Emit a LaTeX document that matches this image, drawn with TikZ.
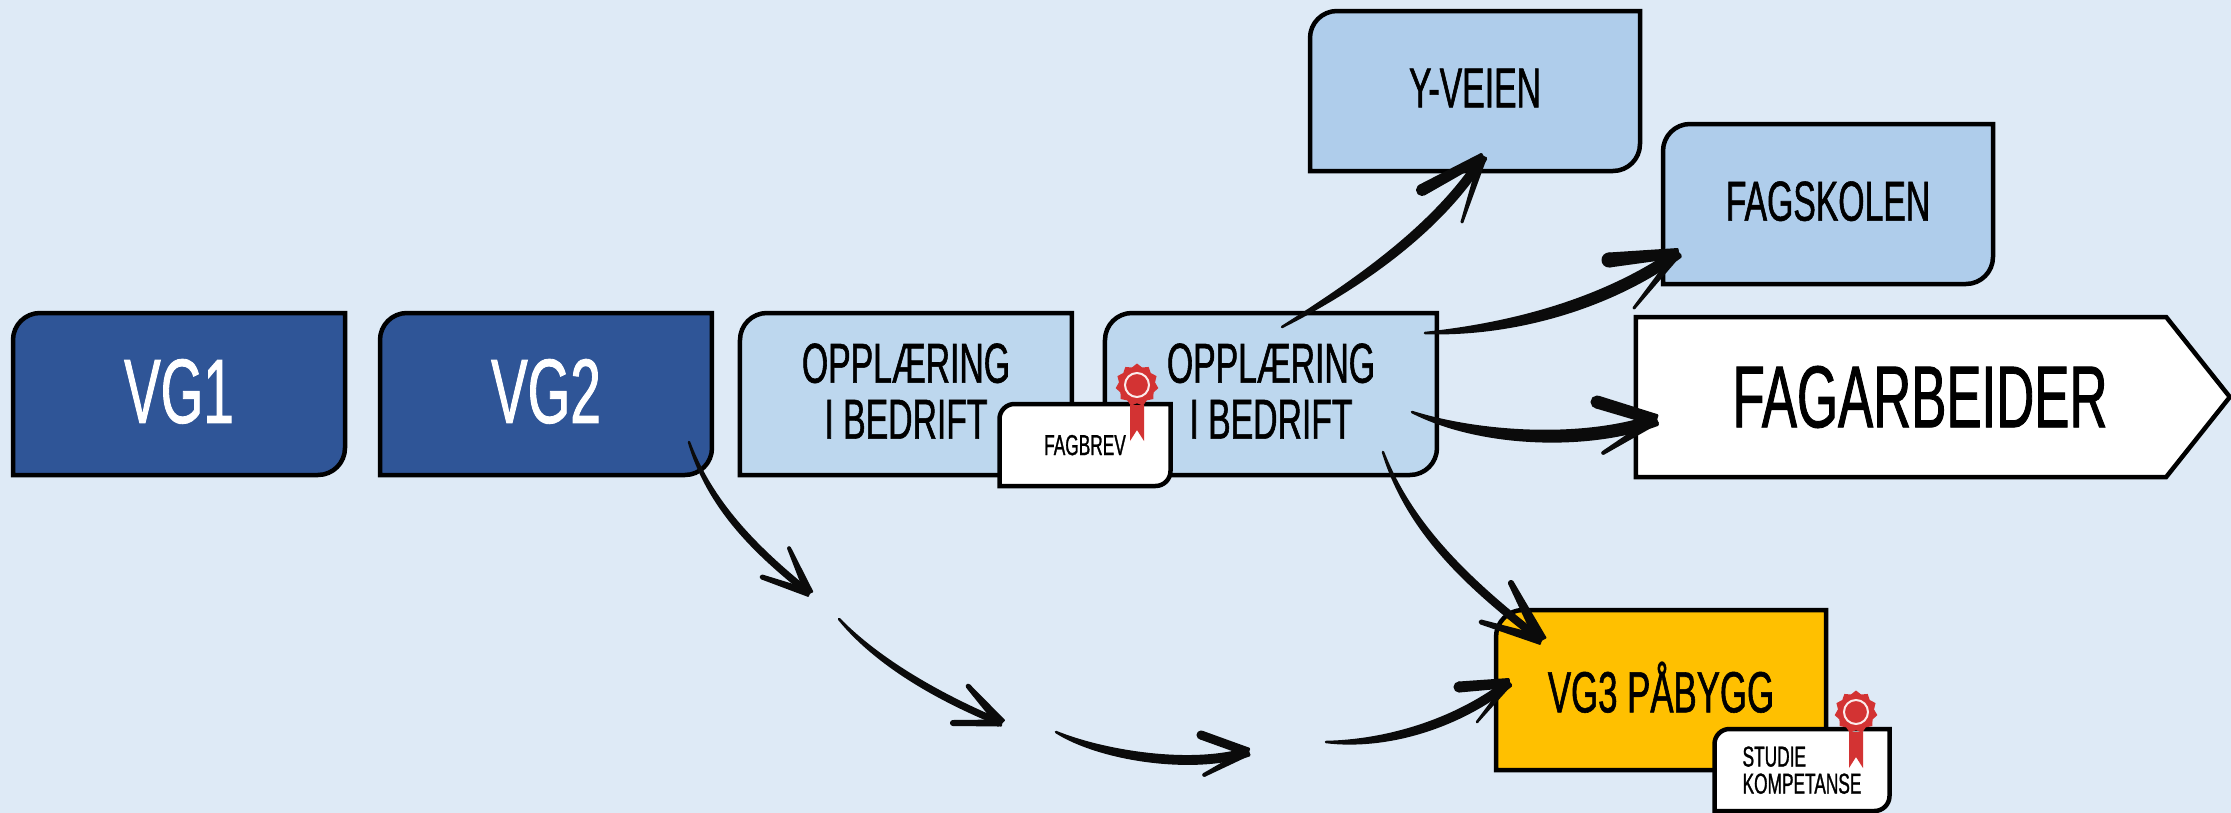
\documentclass[tikz,border=0pt]{standalone}
\usepackage{fontspec}
\usepackage{tikz}
\usetikzlibrary{positioning, arrows.meta, shapes.geometric, shapes.symbols, calc}
\newfontfamily\narrowfont[FakeStretch=0.6, FakeBold=1]{Liberation Sans}

\definecolor{pagebg}{HTML}{DEEAF6}
\definecolor{darkblue}{HTML}{2F5597}
\definecolor{paleblue}{HTML}{BDD7EE}
\definecolor{skyblue}{HTML}{AFCDEB}
\definecolor{amber}{HTML}{FFC000}
\definecolor{sealred}{HTML}{D33333}
\definecolor{inkblack}{HTML}{0B0B0B}

% box with two round corners (top left, bottom right)
\newdimen\cardxa \newdimen\cardya \newdimen\cardxb \newdimen\cardyb \newdimen\cardr
\makeatletter
\pgfdeclareshape{cardshape}{
    \inheritsavedanchors[from=rectangle]
    \inheritanchorborder[from=rectangle]
    \inheritanchor[from=rectangle]{center}
    \inheritanchor[from=rectangle]{north}
    \inheritanchor[from=rectangle]{south}
    \inheritanchor[from=rectangle]{east}
    \inheritanchor[from=rectangle]{west}
    \inheritanchor[from=rectangle]{north east}
    \inheritanchor[from=rectangle]{north west}
    \inheritanchor[from=rectangle]{south east}
    \inheritanchor[from=rectangle]{south west}
    \backgroundpath{
        \southwest \cardxa=\pgf@x \cardya=\pgf@y
        \northeast \cardxb=\pgf@x \cardyb=\pgf@y
        \pgfmathsetlength{\cardr}{\cardradius}
        \pgfpathmoveto{\pgfqpoint{\cardxa}{\cardya}}
        \pgfpathlineto{\pgfqpoint{\cardxa}{\dimexpr\cardyb-\cardr\relax}}
        \pgfpatharc{180}{90}{\cardr}
        \pgfpathlineto{\pgfqpoint{\cardxb}{\cardyb}}
        \pgfpathlineto{\pgfqpoint{\cardxb}{\dimexpr\cardya+\cardr\relax}}
        \pgfpatharc{0}{-90}{\cardr}
        \pgfpathclose
    }
}
\makeatother

% tapered pen stroke: half width, from, bend, bend, to
\newcommand{\brushto}[5]{
    \filldraw[brushink] (#2)
        .. controls ($(#3)!1.3*#1!90:(#4)$) and ($(#4)!1.15*#1!90:(#5)$) .. ($(#5)!#1!-90:(#4)$)
        -- ($(#5)!#1!90:(#4)$)
        .. controls ($(#4)!1.15*#1!-90:(#5)$) and ($(#3)!1.3*#1!-90:(#4)$) .. (#2) -- cycle;
}
% one barb of the pen arrow: tip, offset of its far end, half width at tip, half width at far end
\newcommand{\brushbarb}[4]{
    \coordinate (barbend) at ($(#1)+(#2)$);
    \filldraw[barbink] ($(barbend)!#4!90:(#1)$) -- ($(#1)!#3!-90:(barbend)$)
        -- ($(#1)!#3!90:(barbend)$) -- ($(barbend)!#4!-90:(#1)$) -- cycle;
    \fill[barbink] (barbend) circle (#4);
}

\begin{document}
\begin{tikzpicture}[
        x=0.1mm, y=-0.1mm,
        node distance=3cm and 3cm,
        % Styles
        cardbase/.style={cardshape, draw=black, line width=0.45mm, inner sep=0pt, outer sep=0pt,
                align=center, text=black, text depth=0.6mm, cardrad=2.7mm, minimum width=33.2mm, minimum height=16.2mm},
        cardrad/.code={\def\cardradius{#1}},
        darkbox/.style={cardbase, fill=darkblue, text=white,
                font=\narrowfont\fontsize{26}{28}\selectfont},
        palebox/.style={cardbase, fill=paleblue, font=\narrowfont\fontsize{16}{15.9}\selectfont},
        skybox/.style={cardbase, fill=skyblue, minimum width=33cm/10, minimum height=16cm/10,
                font=\narrowfont\fontsize{16}{15.9}\selectfont},
        amberbox/.style={cardbase, fill=amber, minimum width=33cm/10, minimum height=16cm/10,
                font=\narrowfont\fontsize{16.5}{15.9}\selectfont},
        badgebox/.style={cardbase, fill=white, cardrad=1.5mm, minimum height=8.2mm, text depth=0pt,
                font=\narrowfont\fontsize{8.2}{7.7}\selectfont},
        endbox/.style={signal, signal to=east, signal pointer angle=103, draw=black, fill=white,
                line width=0.45mm, inner sep=0pt, outer sep=0pt, minimum width=59.4cm/10,
                minimum height=16cm/10, font=\narrowfont\fontsize{25}{26}\selectfont},
        brushink/.style={fill=inkblack, draw=inkblack, line width=0.25mm, line join=round},
        barbink/.style={fill=inkblack, draw=inkblack, line width=0.2mm, line join=round},
        sealstar/.style={star, star points=11, star point ratio=1.18, fill=sealred,
                minimum size=4.3mm, inner sep=0pt},
        sealring/.style={circle, draw=white!90!sealred, line width=0.2mm, minimum size=2.4mm, inner sep=0pt},
        seal/.pic={
            \fill[sealred] (-7,20) -- (7,20) -- (7,56) -- (0,45) -- (-7,56) -- cycle;
            \node[sealstar] (-burst) at (0,0) {};
            \node[sealring] (-ring) at (0,0) {};
        }, ]

        % === BACKGROUND ===
        \fill[pagebg] (0,0) rectangle (2231,813);
        \useasboundingbox (0,0) rectangle (2231,813);

        % === SCHOOL ROW ===
        \node[darkbox] (vgone) at (179,394) {VG1};
        \node[darkbox, right=3.5mm of vgone] (vgtwo) {VG2};
        \node[palebox, right=2.8mm of vgtwo] (oppone) {OPPLÆRING\\I BEDRIFT};
        \node[palebox, right=3.3mm of oppone] (opptwo) {OPPLÆRING\\I BEDRIFT};

        % Badge over the two boxes
        \node[badgebox, minimum width=17.1mm] (fagbrev) at (1085,445) {FAGBREV};
        \pic (fagseal) at (1137,385) {seal};

        % === WAYS ON ===
        \node[skybox] (yveien) at (1475,91) {Y-VEIEN};
        \node[skybox] (fagskolen) at (1828,204) {FAGSKOLEN};
        \node[endbox] (fagarbeider) at (1901,397) {\hspace{3.8mm}FAGARBEIDER};
        \node[amberbox] (vgtre) at (1661,690) {VG3 PÅBYGG};
        \node[badgebox, minimum width=17.5mm, align=left] (studie) at (1802,770) {STUDIE\\KOMPETANSE};
        \pic (studieseal) at (1856,712) {seal};

        % === ARROW ENDS ===
        \coordinate (outy) at ($(opptwo.center)+(11,-67)$);
        \coordinate (outf) at ($(opptwo.center)+(154,-61)$);
        \coordinate (outa) at ($(opptwo.center)+(141,18)$);
        \coordinate (outv) at ($(opptwo.center)+(112,58)$);
        \coordinate (iny) at ($(yveien.center)+(8,66)$);
        \coordinate (inf) at ($(fagskolen.center)+(-150,49)$);
        \coordinate (ina) at ($(fagarbeider.center)+(-245,23)$);
        \coordinate (inv) at ($(vgtre.center)+(-120,-50)$);
        \coordinate (outtwo) at ($(vgtwo.center)+(143,48)$);
        \coordinate (gapa) at (809,593);
        \coordinate (gapb) at (839,619);
        \coordinate (gapc) at (1001,723);
        \coordinate (gapd) at (1056,732);
        \coordinate (gape) at (1248,752);
        \coordinate (gapf) at (1326,742);
        \coordinate (inlow) at ($(vgtre.center)+(-152,-7)$);

        % Out of the second training box
        \brushto{0.35mm}{outy}{1365,280}{1440,225}{iny}
        \brushbarb{iny}{-61,33}{0.35mm}{0.5mm}
        \brushbarb{iny}{-21,65}{0.3mm}{0.05mm}
        \brushto{0.45mm}{outf}{1510,330}{1605,305}{inf}
        \brushbarb{inf}{-69,7}{0.4mm}{0.65mm}
        \brushbarb{inf}{-44,55}{0.3mm}{0.05mm}
        \brushto{0.5mm}{outa}{1480,440}{1585,445}{ina}
        \brushbarb{ina}{-59,-18}{0.5mm}{0.55mm}
        \brushbarb{ina}{-53,33}{0.35mm}{0.1mm}
        \brushto{0.27mm}{outv}{1410,530}{1470,585}{inv}
        \brushbarb{inv}{-30,-57}{0.5mm}{0.2mm}
        \brushbarb{inv}{-60,-18}{0.4mm}{0.15mm}

        % Broken line from VG2 to VG3
        \brushto{0.22mm}{outtwo}{710,505}{755,550}{gapa}
        \brushbarb{gapa}{-20,-45}{0.35mm}{0.1mm}
        \brushbarb{gapa}{-47,-16}{0.3mm}{0.15mm}
        \brushto{0.22mm}{gapb}{880,665}{945,700}{gapc}
        \brushbarb{gapc}{-33,-37}{0.4mm}{0.15mm}
        \brushbarb{gapc}{-48,0}{0.25mm}{0.2mm}
        \brushto{0.35mm}{gapd}{1100,755}{1190,770}{gape}
        \brushbarb{gape}{-47,-17}{0.35mm}{0.35mm}
        \brushbarb{gape}{-44,23}{0.3mm}{0.1mm}
        \brushto{0.33mm}{gapf}{1385,745}{1455,725}{inlow}
        \brushbarb{inlow}{-50,4}{0.4mm}{0.45mm}
        \brushbarb{inlow}{-32,39}{0.25mm}{0.03mm}

    \end{tikzpicture}
\end{document}
